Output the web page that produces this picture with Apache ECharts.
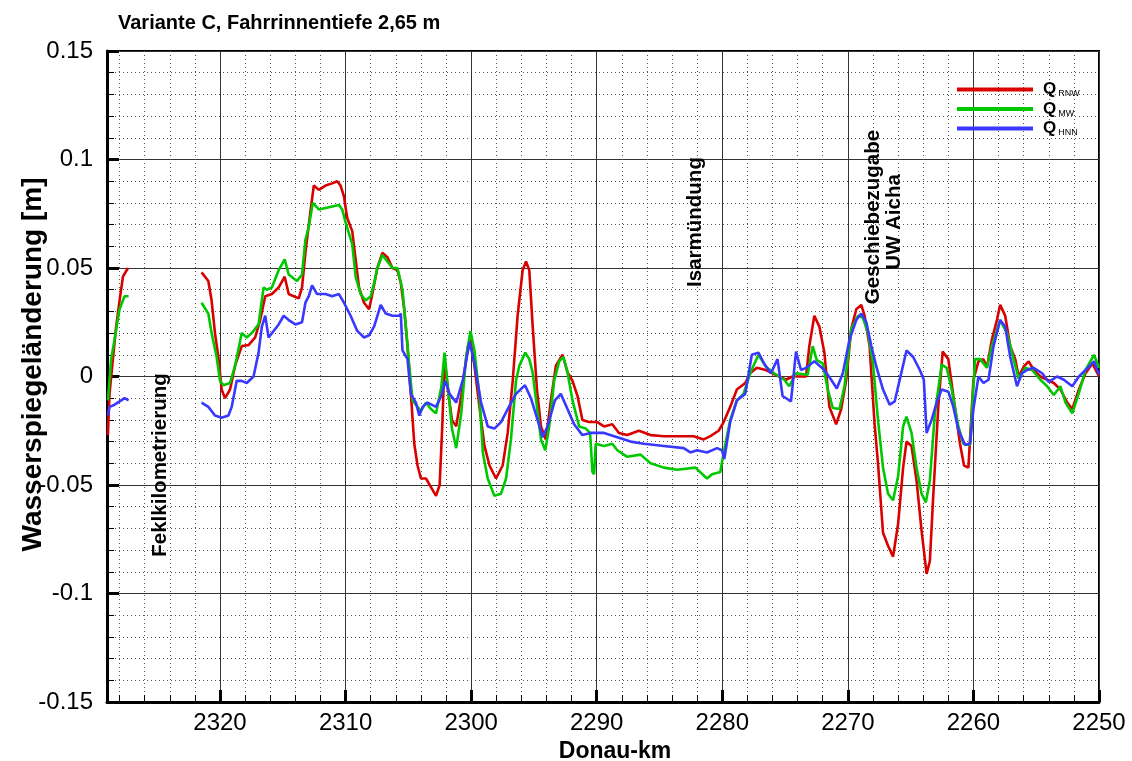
<!DOCTYPE html>
<html>
<head>
<meta charset="utf-8">
<script src="https://cdn.jsdelivr.net/npm/echarts/dist/echarts.min.js"></script>
<style>html,body{margin:0;padding:0;background:#fff}#c{width:1132px;height:761px}</style>
</head>
<body>
<div id="c"></div>
<script>
// ---- data (Donau-km, Wasserspiegeländerung [m]) ----
const titleText = 'Variante C, Fahrrinnentiefe 2,65 m';
const seriesNames = ['RNW', 'MW', 'HNN'];
const xTicks = [2250, 2260, 2270, 2280, 2290, 2300, 2310, 2320];
const yTicks = [-0.15, -0.1, -0.05, 0, 0.05, 0.1, 0.15];
const annotations = ['Feklkilometrierung', 'Isarmündung', 'Geschiebezugabe', 'UW Aicha'];

const rnwUp = [[2328.93,-0.027],[2328.8,-0.008],[2328.53,0.008],[2328.27,0.023],[2328.0,0.035],[2327.73,0.046],[2327.33,0.05]];
const rnwMain = [[2321.47,0.048],[2320.93,0.044],[2320.67,0.035],[2320.4,0.02],[2320.13,0.009],[2319.87,-0.006],[2319.6,-0.01],[2319.2,-0.006],[2318.8,0.005],[2318.27,0.014],[2317.73,0.0145],[2317.2,0.018],[2316.8,0.026],[2316.4,0.037],[2315.87,0.038],[2315.33,0.041],[2314.85,0.046],[2314.53,0.038],[2314.13,0.037],[2313.73,0.036],[2313.47,0.041],[2313.2,0.057],[2312.8,0.076],[2312.53,0.088],[2312.13,0.086],[2311.6,0.088],[2311.07,0.089],[2310.67,0.09],[2310.4,0.088],[2310.13,0.083],[2309.87,0.073],[2309.47,0.067],[2309.2,0.054],[2308.93,0.041],[2308.53,0.034],[2308.13,0.031],[2307.87,0.038],[2307.47,0.05],[2307.07,0.057],[2306.67,0.055],[2306.27,0.05],[2305.87,0.049],[2305.6,0.043],[2305.33,0.031],[2305.07,0.014],[2304.8,-0.008],[2304.53,-0.031],[2304.27,-0.041],[2304.0,-0.047],[2303.6,-0.047],[2303.2,-0.051],[2302.8,-0.055],
[2302.51,-0.05],[2302.3,-0.023],[2302.12,0.008],[2301.85,-0.006],[2301.53,-0.02],[2301.19,-0.023],[2300.79,-0.009],[2300.26,0.014],[2300.05,0.017],[2299.74,0.005],[2299.34,-0.014],[2298.94,-0.032],[2298.54,-0.041],[2298.02,-0.047],[2297.49,-0.041],[2297.09,-0.026],[2296.69,-0.002],[2296.3,0.028],[2295.9,0.049],[2295.63,0.053],[2295.37,0.049],[2295.11,0.024],[2294.76,-0.006],[2294.44,-0.023],[2294.05,-0.029],[2293.65,-0.011],[2293.25,0.005],[2292.72,0.01],[2292.33,0.002],[2291.93,-0.002],[2291.53,-0.009],[2291.14,-0.02],[2290.61,-0.021],[2289.95,-0.021],[2289.42,-0.023],[2288.76,-0.022],[2288.23,-0.026],[2287.57,-0.027],[2286.64,-0.025],[2285.71,-0.027],[2284.66,-0.0275],[2283.6,-0.0275],[2282.28,-0.0275],[2281.48,-0.029],[2280.95,-0.0275],[2280.29,-0.025],[2279.89,-0.021],[2279.37,-0.014],[2278.84,-0.006],[2278.17,-0.003],[2277.78,0.0015],[2277.25,0.004],
[2276.53,0.003],[2276.0,0.0015],[2275.47,0],[2274.93,-0.0015],[2274.4,0],[2273.33,0],[2273.07,0.014],[2272.67,0.028],[2272.27,0.023],[2271.87,0.011],[2271.47,-0.014],[2270.93,-0.022],[2270.53,-0.015],[2270.13,-0.0015],[2269.73,0.022],[2269.33,0.031],[2268.93,0.033],[2268.67,0.028],[2268.27,0.014],[2267.87,-0.022],[2267.6,-0.04],[2267.2,-0.072],[2266.8,-0.078],[2266.4,-0.083],[2266.0,-0.068],[2265.6,-0.042],[2265.33,-0.03],[2264.93,-0.032],[2264.53,-0.048],[2264.13,-0.071],[2263.73,-0.091],[2263.47,-0.085],[2263.2,-0.055],[2262.8,-0.014],[2262.45,0.0115],[2262.0,0.008],[2261.6,-0.009],[2261.07,-0.031],[2260.75,-0.041],[2260.4,-0.042],[2260.0,-0.0015],[2259.6,0.007],[2259.2,0.008],[2258.93,0.004],[2258.53,0.017],[2258.13,0.026],[2257.87,0.033],[2257.47,0.028],[2257.07,0.014],[2256.67,0.008],[2256.4,0],[2256.0,0.0045],[2255.6,0.007],[2255.2,0.003],[2254.67,0],[2254.13,-0.0015],[2253.6,-0.003],[2253.07,-0.006],[2252.53,-0.012],[2252.13,-0.015],[2251.6,-0.006],[2251.07,0.0015],[2250.53,0.006],[2250.0,0]];

const mwUp = [[2328.93,-0.011],[2328.67,0.008],[2328.4,0.017],[2328.0,0.031],[2327.6,0.037],[2327.28,0.037]];
const mwMain = [[2321.47,0.034],[2320.93,0.029],[2320.67,0.02],[2320.27,0.009],[2320.0,-0.002],[2319.73,-0.004],[2319.2,-0.003],[2318.8,0.005],[2318.27,0.02],[2317.87,0.018],[2317.47,0.02],[2316.93,0.024],[2316.53,0.041],[2316.27,0.04],[2315.87,0.041],[2315.33,0.049],[2314.85,0.054],[2314.53,0.047],[2313.87,0.044],[2313.47,0.047],[2313.2,0.063],[2312.93,0.069],[2312.61,0.08],[2312.13,0.077],[2311.33,0.078],[2310.53,0.079],[2310.27,0.077],[2310.0,0.071],[2309.47,0.061],[2309.2,0.046],[2308.8,0.038],[2308.4,0.035],[2308.0,0.037],[2307.73,0.043],[2307.47,0.05],[2307.07,0.056],[2306.67,0.053],[2306.27,0.05],[2305.87,0.05],[2305.47,0.04],[2305.2,0.023],[2304.93,0.005],[2304.67,-0.011],[2304.27,-0.014],[2304.0,-0.016],[2303.6,-0.012],[2303.2,-0.015],[2302.8,-0.017],
[2302.38,-0.005],[2302.12,0.011],[2301.85,-0.005],[2301.53,-0.024],[2301.19,-0.033],[2300.79,-0.017],[2300.4,0.009],[2300.05,0.021],[2299.74,0.012],[2299.34,-0.009],[2299.07,-0.035],[2298.68,-0.047],[2298.15,-0.055],[2297.62,-0.054],[2297.22,-0.047],[2296.83,-0.029],[2296.43,-0.002],[2296.16,0.005],[2295.69,0.011],[2295.37,0.008],[2295.11,0.002],[2294.76,-0.014],[2294.44,-0.029],[2294.1,-0.034],[2293.78,-0.023],[2293.39,-0.002],[2292.99,0.007],[2292.65,0.009],[2292.33,0.002],[2291.93,-0.011],[2291.4,-0.023],[2290.87,-0.024],[2290.53,-0.026],[2290.34,-0.044],[2290.21,-0.045],[2290.08,-0.031],[2289.42,-0.032],[2288.76,-0.031],[2288.36,-0.034],[2287.57,-0.037],[2286.51,-0.036],[2285.71,-0.04],[2284.66,-0.042],[2283.6,-0.043],[2282.14,-0.042],[2281.22,-0.047],[2280.82,-0.045],[2280.16,-0.044],[2279.89,-0.035],[2279.37,-0.02],[2278.84,-0.011],[2278.31,-0.008],[2277.78,0.0015],[2277.12,0.01],
[2276.53,0.0045],[2275.87,0.0015],[2275.07,-0.0015],[2274.67,-0.0045],[2274.13,0.0015],[2273.2,0.0008],[2272.8,0.014],[2272.48,0.0075],[2272.0,0.006],[2271.6,-0.006],[2271.2,-0.0145],[2270.67,-0.015],[2270.27,-0.0045],[2269.73,0.022],[2269.2,0.028],[2268.8,0.027],[2268.4,0.02],[2268.0,0.006],[2267.6,-0.02],[2267.2,-0.042],[2266.8,-0.054],[2266.4,-0.057],[2266.0,-0.046],[2265.6,-0.023],[2265.33,-0.0185],[2264.93,-0.026],[2264.53,-0.042],[2264.13,-0.054],[2263.79,-0.058],[2263.47,-0.048],[2263.07,-0.017],[2262.53,0.0055],[2262.13,0.004],[2261.73,-0.006],[2261.2,-0.023],[2260.8,-0.031],[2260.27,-0.0315],[2259.87,0.008],[2259.47,0.008],[2258.93,0.004],[2258.53,0.014],[2258.13,0.0215],[2257.87,0.026],[2257.33,0.02],[2256.8,0.008],[2256.4,-0.001],[2255.87,0.004],[2255.33,0.003],[2254.67,-0.0015],[2254.13,-0.0045],[2253.6,-0.0085],[2253.07,-0.0045],[2252.67,-0.012],[2252.13,-0.017],[2251.6,-0.0075],[2251.07,0.003],[2250.4,0.01],[2250.0,0.004]];

const hnnUp = [[2328.93,-0.018],[2328.8,-0.014],[2328.4,-0.013],[2327.87,-0.011],[2327.6,-0.01],[2327.28,-0.011]];
const hnnMain = [[2321.47,-0.012],[2320.93,-0.014],[2320.4,-0.018],[2319.87,-0.019],[2319.33,-0.018],[2319.07,-0.014],[2318.67,-0.002],[2318.27,-0.002],[2317.87,-0.003],[2317.33,0.0],[2316.93,0.011],[2316.67,0.023],[2316.4,0.028],[2316.13,0.018],[2315.73,0.021],[2315.33,0.024],[2314.93,0.028],[2314.53,0.026],[2314.0,0.024],[2313.47,0.025],[2313.2,0.034],[2312.93,0.037],[2312.67,0.042],[2312.27,0.038],[2311.6,0.038],[2311.07,0.037],[2310.53,0.038],[2310.13,0.034],[2309.6,0.028],[2309.07,0.021],[2308.53,0.018],[2308.13,0.019],[2307.73,0.023],[2307.2,0.033],[2306.8,0.029],[2306.27,0.028],[2305.73,0.028],[2305.6,0.029],[2305.47,0.012],[2305.07,0.008],[2304.8,-0.008],[2304.4,-0.012],[2304.13,-0.018],[2303.87,-0.014],[2303.47,-0.012],[2302.8,-0.014],
[2302.38,-0.009],[2302.06,-0.002],[2301.72,-0.008],[2301.19,-0.012],[2300.66,-0.0015],[2300.13,0.016],[2299.74,0.006],[2299.21,-0.012],[2298.68,-0.023],[2298.15,-0.024],[2297.62,-0.021],[2297.09,-0.015],[2296.43,-0.008],[2295.71,-0.004],[2295.24,-0.01],[2294.71,-0.02],[2294.31,-0.028],[2293.92,-0.023],[2293.33,-0.011],[2292.86,-0.008],[2292.33,-0.015],[2291.8,-0.022],[2291.14,-0.027],[2290.48,-0.026],[2289.42,-0.026],[2288.36,-0.028],[2287.3,-0.03],[2286.24,-0.031],[2284.66,-0.032],[2283.07,-0.033],[2282.54,-0.035],[2282.01,-0.034],[2281.22,-0.035],[2280.42,-0.033],[2280.03,-0.034],[2279.84,-0.038],[2279.37,-0.021],[2278.84,-0.011],[2278.17,-0.008],[2277.65,0.01],[2277.12,0.011],
[2276.67,0.006],[2276.13,0.0015],[2275.6,0.008],[2275.2,-0.009],[2274.53,-0.0115],[2274.13,0.0115],[2273.73,0.003],[2273.33,0.004],[2272.67,0.007],[2271.87,0.003],[2271.33,-0.0015],[2270.88,-0.0055],[2270.4,0.0015],[2269.87,0.017],[2269.33,0.026],[2268.93,0.029],[2268.53,0.025],[2268.13,0.014],[2267.73,0.0045],[2267.2,-0.006],[2266.67,-0.013],[2266.27,-0.0115],[2265.87,-0.0015],[2265.33,0.012],[2264.8,0.009],[2264.27,0.003],[2263.95,-0.0015],[2263.73,-0.026],[2263.33,-0.02],[2262.93,-0.012],[2262.53,-0.006],[2262.0,-0.007],[2261.6,-0.014],[2261.2,-0.0245],[2260.67,-0.0315],[2260.27,-0.031],[2260.0,-0.015],[2259.6,0],[2259.2,-0.003],[2258.8,-0.0015],[2258.4,0.014],[2257.87,0.026],[2257.47,0.023],[2257.07,0.009],[2256.53,-0.0045],[2256.13,0.0015],[2255.73,0.003],[2255.2,0.004],[2254.53,0.0015],[2254.0,-0.0025],[2253.33,0],[2252.8,-0.0015],[2252.13,-0.0045],[2251.6,0],[2251.07,0.003],[2250.4,0.007],[2250.0,0.0008]];

// ---- chart ----
const FONT = '"Liberation Sans", Arial, Helvetica, sans-serif';
const colors = ['#d90000', '#00c800', '#3838ff'];
const gap = [2324.5, null];
const seriesData = [
  rnwUp.concat([gap], rnwMain),
  mwUp.concat([gap], mwMain),
  hnnUp.concat([gap], hnnMain)
];

const chart = echarts.init(document.getElementById('c'), null, {renderer: 'canvas'});
const annFont = 'bold 20.5px ' + FONT;
const option = {
  backgroundColor: '#fff',
  animation: false,
  title: {
    text: titleText, left: 113, top: 8,
    textStyle: {fontFamily: FONT, fontSize: 20, fontWeight: 'bold', color: '#000'}
  },
  grid: {left: 107, right: 33, top: 51, bottom: 59, containLabel: false, outerBoundsMode: 'none',
    show: true, borderColor: '#000', borderWidth: 2, backgroundColor: 'transparent'},
  legend: {
    orient: 'vertical', left: 952, top: 76, itemWidth: 76, itemHeight: 4, itemGap: 2,
    icon: 'rect',
    data: seriesNames,
    formatter: n => '{q|Q}{s|' + n + '}',
    textStyle: {
      fontFamily: FONT, color: '#000',
      rich: {
        q: {fontFamily: FONT, fontSize: 17, fontWeight: 'bold', lineHeight: 18, padding: [0, 0, 0, 5], verticalAlign: 'middle'},
        s: {fontFamily: FONT, fontSize: 9, lineHeight: 9, padding: [0, 0, 0, 2], verticalAlign: 'bottom'}
      }
    }
  },
  xAxis: {
    type: 'value', inverse: true, min: 2250, max: 2329, interval: 10,
    name: 'Donau-km', nameLocation: 'middle', nameGap: 32,
    nameTextStyle: {fontFamily: FONT, fontSize: 23, fontWeight: 'bold', color: '#000', padding: [0, 0, 0, 24]},
    axisLine: {onZero: false, lineStyle: {color: '#000', width: 3}},
    axisTick: {inside: true, length: 12, lineStyle: {color: '#000', width: 3}},
    minorTick: {show: true, splitNumber: 5, length: 7, lineStyle: {color: '#000', width: 1}},
    axisLabel: {fontFamily: FONT, fontSize: 24, color: '#000', margin: 9,
      formatter: v => xTicks.indexOf(v) >= 0 ? String(v) : ''},
    splitLine: {show: true, lineStyle: {color: '#333', width: 1}},
    minorSplitLine: {show: true, lineStyle: {color: '#555', width: 1, type: [1, 3]}}
  },
  yAxis: {
    type: 'value', min: -0.15, max: 0.15, interval: 0.05,
    name: 'Wasserspiegeländerung [m]', nameLocation: 'middle', nameGap: 60, nameMoveOverlap: false,
    nameTextStyle: {fontFamily: FONT, fontSize: 28, fontWeight: 'bold', color: '#000', padding: [0, 0, 0, 24]},
    axisLine: {onZero: false, lineStyle: {color: '#000', width: 3}},
    axisTick: {inside: true, length: 12, lineStyle: {color: '#000', width: 3}},
    minorTick: {show: true, splitNumber: 5, length: 7, lineStyle: {color: '#000', width: 1}},
    axisLabel: {fontFamily: FONT, fontSize: 24, color: '#000', margin: 14,
      formatter: v => {
        const r = Math.round(v * 100) / 100;
        const t = yTicks.find(k => Math.abs(k - r) < 1e-9);
        return t === undefined ? '' : String(t);
      }},
    splitLine: {show: true, lineStyle: {color: '#333', width: 1}},
    minorSplitLine: {show: true, lineStyle: {color: '#555', width: 1, type: [1, 3]}}
  },
  series: seriesNames.map((n, i) => ({
    name: n, type: 'line', data: seriesData[i], symbol: 'none', connectNulls: false,
    lineStyle: {color: colors[i], width: 2.6}, itemStyle: {color: colors[i]},
    clip: true, z: 3 + i
  })),
  graphic: [
    {type: 'text', x: 160, y: 465, rotation: Math.PI / 2, z: 100,
      style: {text: annotations[0], font: annFont, fill: '#000', align: 'center', verticalAlign: 'middle'}},
    {type: 'text', x: 695, y: 222, rotation: Math.PI / 2, z: 100,
      style: {text: annotations[1], font: annFont, fill: '#000', align: 'center', verticalAlign: 'middle'}},
    {type: 'text', x: 873, y: 217, rotation: Math.PI / 2, z: 100,
      style: {text: annotations[2], font: annFont, fill: '#000', align: 'center', verticalAlign: 'middle'}},
    {type: 'text', x: 894, y: 222, rotation: Math.PI / 2, z: 100,
      style: {text: annotations[3], font: annFont, fill: '#000', align: 'center', verticalAlign: 'middle'}}
  ]
};
chart.setOption(option);
</script>
</body>
</html>
